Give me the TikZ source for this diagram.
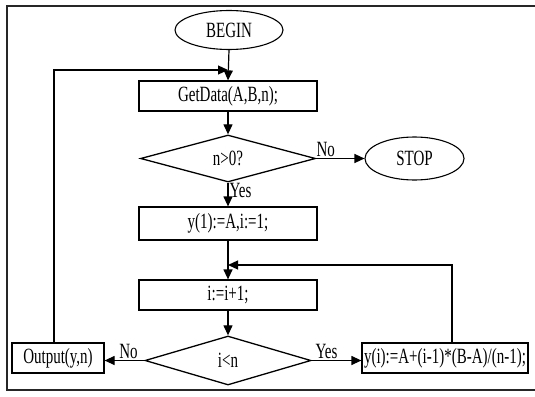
\documentclass[tikz,border=0pt]{standalone}
\usepackage{fontspec}
\usepackage{graphicx}
\setmainfont{Liberation Serif}
\usetikzlibrary{shapes.geometric,arrows.meta}
\newcommand\stx[1]{\scalebox{1}[1.45]{#1}}
\begin{document}
\begin{tikzpicture}[x=1pt,y=-1pt,
  every node/.style={font=\fontsize{15}{15}\selectfont, text=black},
  procbox/.style={draw, line width=1.2pt, rectangle, inner sep=0pt, minimum width=178pt, minimum height=30pt},
  termnode/.style={draw, line width=1.1pt, ellipse, inner sep=0pt},
  decide/.style={draw, line width=1.3pt, diamond, inner sep=0pt},
  flow/.style={line width=1.2pt, -{Triangle[length=10pt,width=9pt]}},
  lbl/.style={inner sep=1pt}
]
\useasboundingbox (0,0) rectangle (535,396);
% frame
\draw[line width=1.5pt, black!85] (536,6) -- (7,6) -- (7,390) -- (536,390);

\node[termnode, minimum width=108pt, minimum height=39pt] (begin) at (229,30) {\stx{BEGIN}};
\node[procbox] (get) at (228,96) {\stx{GetData(A,B,n);}};
\node[decide, minimum width=175pt, minimum height=47pt] (d1) at (228,158.5) {\stx{n>0?}};
\node[termnode, minimum width=99pt, minimum height=43pt] (stop) at (414.5,158.5) {\stx{STOP}};
\node[procbox, minimum height=33pt] (init) at (228,223.5) {\stx{y(1):=A,i:=1;}};
\node[procbox] (inc) at (228,295) {\stx{i:=i+1;}};
\node[decide, minimum width=166pt, minimum height=49pt] (d2) at (228,360.5) {\stx{i<n}};
\node[draw, line width=1.2pt, rectangle, inner sep=0pt, minimum width=92pt, minimum height=30pt] (out) at (58,358) {\stx{Output(y,n)}};
\node[draw, line width=1.2pt, rectangle, inner sep=0pt, minimum width=166pt, minimum height=30pt] (calc) at (445,358) {\stx{y(i):=A+(i-1)*(B-A)/(n-1);}};

\coordinate (j1) at (get.north |- 0,70);
\coordinate (j2) at (inc.north |- 0,265);
\coordinate (c1) at (54,70);
\coordinate (c2) at (452,265);

\draw[flow] (begin.south) -- (get.north);
\draw[flow] (out.north -| c1) -- (c1) -- (j1);
\draw[flow] (get.south) -- (d1.north);
\draw[flow] (d1.east) -- (stop.west) node[lbl, pos=0.2, above] {\stx{No}};
\draw[flow] (d1.south) -- (init.north) node[lbl, pos=0.35, right] {\stx{Yes}};
\draw[flow] (init.south) -- (inc.north);
\draw[flow] (calc.north -| c2) -- (c2) -- (j2);
\draw[flow] (inc.south) -- (d2.north);
\draw[flow] (d2.west) -- (out.east |- d2.west) node[lbl, pos=0.4, above] {\stx{No}};
\draw[flow] (d2.east) -- (calc.west |- d2.east) node[lbl, pos=0.3, above] {\stx{Yes}};
\end{tikzpicture}
\end{document}
